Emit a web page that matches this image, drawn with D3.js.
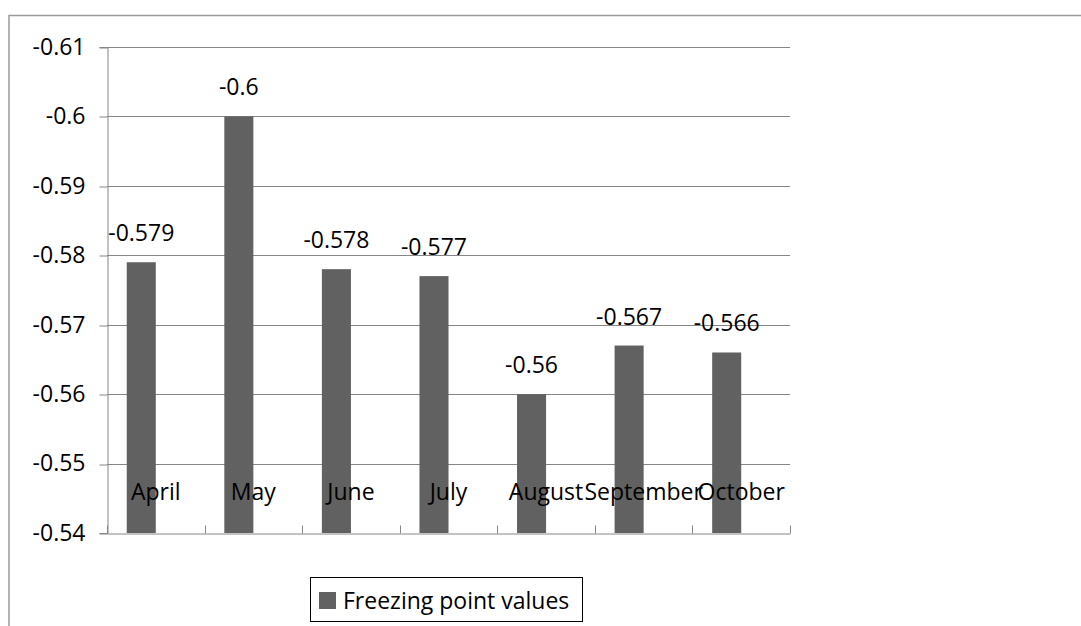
<!DOCTYPE html>
<html>
<head>
<meta charset="utf-8">
<script src="https://cdn.jsdelivr.net/npm/d3@7"></script>
<style>
  html, body { margin: 0; padding: 0; background: #ffffff; }
  svg { display: block; }
  text { font-family: "Open Sans", Lato, sans-serif; fill: #000; }
</style>
</head>
<body>
<svg id="chart" width="1081" height="626"></svg>
<script>
// Monthly freezing point readings
const categories = ["April", "May", "June", "July", "August", "September", "October"];
const seriesName = "Freezing point values";
const values = [-0.579, -0.6, -0.578, -0.577, -0.56, -0.567, -0.566];
const yTicks = [-0.54, -0.55, -0.56, -0.57, -0.58, -0.59, -0.6, -0.61];
const yTickLabels = ["-0.54", "-0.55", "-0.56", "-0.57", "-0.58", "-0.59", "-0.6", "-0.61"];
// Two series slots per category; only the first carries data
const seriesSlots = [seriesName, "(empty)"];

const svg = d3.select("#chart");
const plot = { left: 107, right: 790, top: 47, bottom: 533 };
const axisColor = "#868686";
const barColor = "#616161";
const fontFamily = "'Open Sans', Lato, sans-serif";
const fontSize = 23;

// Outer chart frame (extends past the right and bottom edges)
svg.append("rect")
  .attr("x", 9).attr("y", 15.5)
  .attr("width", 1200).attr("height", 700)
  .attr("fill", "none")
  .attr("stroke", "#9a9a9a")
  .attr("stroke-width", 1.5);

const x = d3.scaleBand().domain(categories).range([plot.left, plot.right]).paddingInner(0).paddingOuter(0);
const xSub = d3.scaleBand().domain(seriesSlots).range([0, x.bandwidth()]).paddingInner(0).paddingOuter(0.68);
const y = d3.scaleLinear().domain([-0.54, -0.61]).range([plot.bottom, plot.top]);

// Horizontal gridlines
svg.append("g").selectAll("line")
  .data(yTicks.filter(t => t !== -0.54))
  .join("line")
  .attr("x1", plot.left).attr("x2", plot.right)
  .attr("y1", d => Math.round(y(d)) + 0.5).attr("y2", d => Math.round(y(d)) + 0.5)
  .attr("stroke", axisColor).attr("stroke-width", 1);

// Value axis
const yAxis = svg.append("g")
  .attr("transform", `translate(${plot.left + 0.5},0)`)
  .call(d3.axisLeft(y).tickValues(yTicks)
    .tickFormat((d, i) => yTickLabels[i])
    .tickSize(8).tickPadding(14));
yAxis.select(".domain").attr("stroke", axisColor);
yAxis.selectAll(".tick line").attr("stroke", axisColor)
  .attr("transform", d => `translate(0,${Math.round(y(d)) + 0.5 - y(d)})`);
yAxis.selectAll(".tick text")
  .style("font-family", fontFamily)
  .style("font-size", fontSize + "px")
  .attr("fill", "#000");

// Bars
svg.append("g").selectAll("rect")
  .data(values)
  .join("rect")
  .attr("x", (d, i) => x(categories[i]) + xSub(seriesName))
  .attr("width", xSub.bandwidth())
  .attr("y", d => y(d))
  .attr("height", d => y(-0.54) - y(d))
  .attr("fill", barColor);

// Category axis line and tick marks between categories
const xAxis = svg.append("g")
  .attr("transform", `translate(0,${plot.bottom + 0.5})`)
  .call(d3.axisBottom(x).tickSize(0).tickFormat(""));
xAxis.select(".domain").attr("stroke", axisColor);
xAxis.selectAll(".tick").remove();
const boundaries = categories.map(c => x(c)).concat([x.range()[1]]);
xAxis.selectAll("line.cat-tick")
  .data(boundaries)
  .join("line")
  .attr("class", "cat-tick")
  .attr("x1", d => Math.round(d) + 0.5).attr("x2", d => Math.round(d) + 0.5)
  .attr("y1", 0).attr("y2", -8)
  .attr("stroke", axisColor);

// Category labels (drawn above the axis line, inside the plot)
svg.append("g").selectAll("text")
  .data(categories)
  .join("text")
  .attr("x", d => x(d) + x.bandwidth() / 2)
  .attr("y", 500)
  .attr("text-anchor", "middle")
  .style("font-size", fontSize + "px")
  .text(d => d);

// Data labels above each bar
svg.append("g").selectAll("text")
  .data(values)
  .join("text")
  .attr("x", (d, i) => x(categories[i]) + xSub(seriesName) + xSub.bandwidth() / 2)
  .attr("y", d => y(d) - 21)
  .attr("text-anchor", "middle")
  .style("font-size", fontSize + "px")
  .text(d => String(d));

// Legend
const legend = svg.append("g");
legend.append("rect")
  .attr("x", 310.5).attr("y", 577.5)
  .attr("width", 272).attr("height", 44)
  .attr("fill", "#fff").attr("stroke", "#000").attr("stroke-width", 1);
legend.append("rect")
  .attr("x", 319).attr("y", 592)
  .attr("width", 17).attr("height", 17)
  .attr("fill", barColor);
legend.append("text")
  .attr("x", 343).attr("y", 609)
  .style("font-size", fontSize + "px")
  .text(seriesName);
</script>
</body>
</html>
